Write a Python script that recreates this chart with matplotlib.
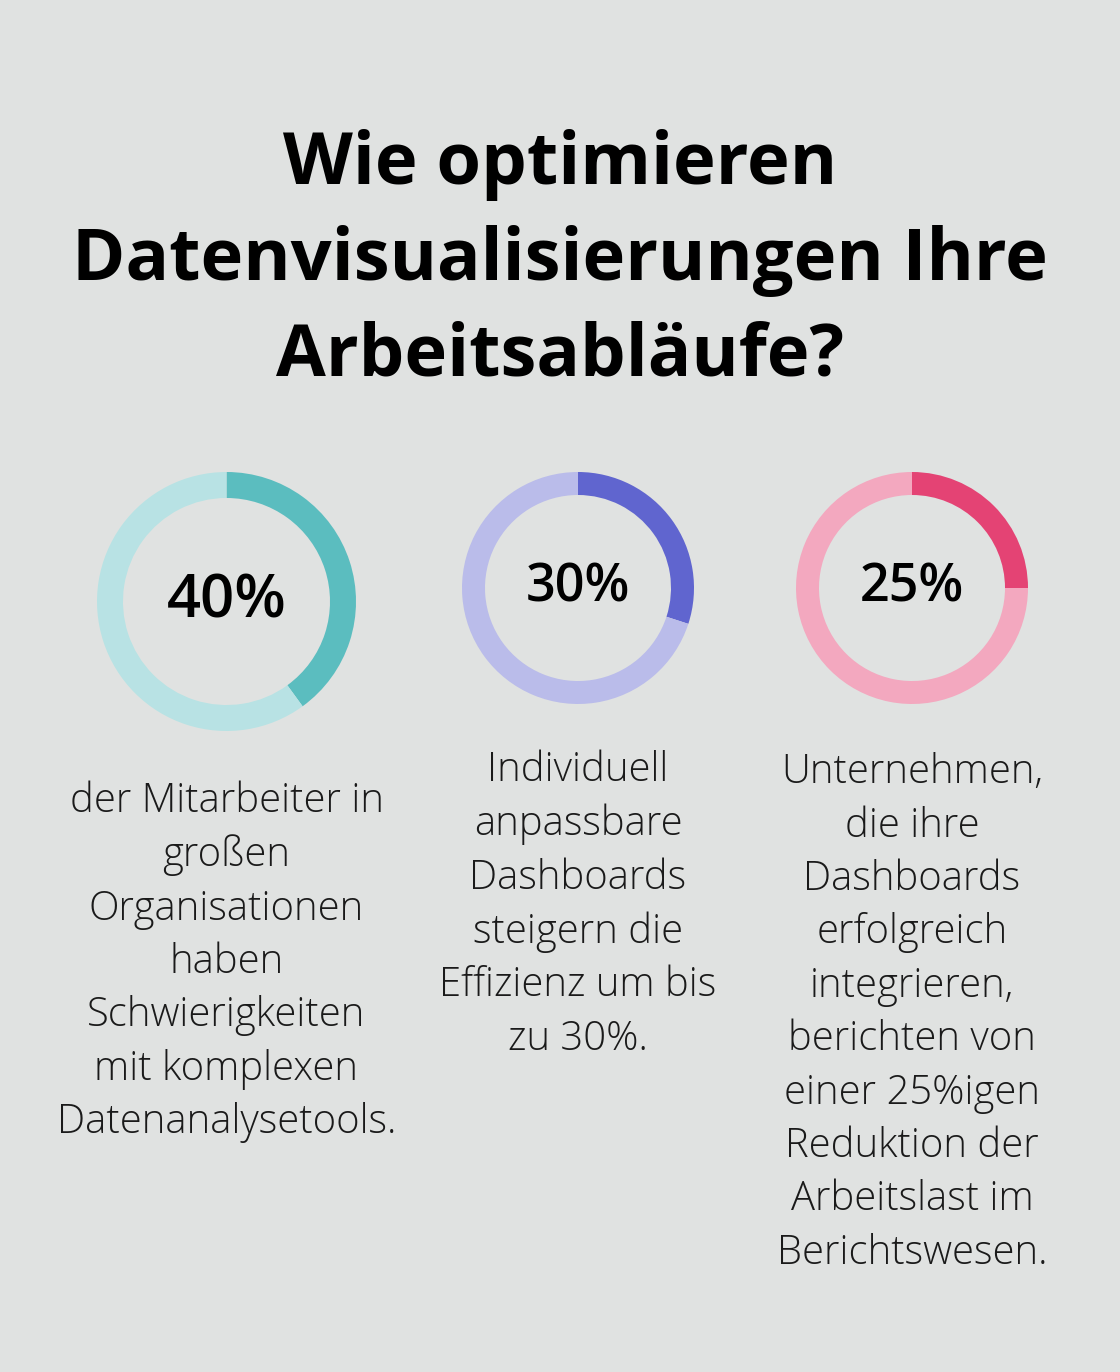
import matplotlib.pyplot as plt

# chart data
values = [40, 30, 25]
value_labels = ["40%", "30%", "25%"]
descriptions = [
    "der Mitarbeiter in\ngroßen\nOrganisationen\nhaben\nSchwierigkeiten\nmit komplexen\nDatenanalysetools.",
    "Individuell\nanpassbare\nDashboards\nsteigern die\nEffizienz um bis\nzu 30%.",
    "Unternehmen,\ndie ihre\nDashboards\nerfolgreich\nintegrieren,\nberichten von\neiner 25%igen\nReduktion der\nArbeitslast im\nBerichtswesen.",
]
title = "Wie optimieren\nDatenvisualisierungen Ihre\nArbeitsabläufe?"

# styling / layout (pixels, y measured from top)
W, H = 1120, 1372
bg = "#e0e2e1"
dark = ["#5bbdbf", "#6065cf", "#e44374"]
light = ["#b8e2e4", "#babcea", "#f3a8bf"]
centers = [(226.5, 601.5), (578, 588), (912, 588)]
radii = [129.5, 116, 116]
widths = [26, 23, 23]
label_sizes = [43, 37.5, 37.5]
text_mid = [962, 905, 1013]  # vertical middle of each description block

plt.rcParams['font.family'] = ['Open Sans', 'DejaVu Sans']

fig = plt.figure(figsize=(W / 100, H / 100), dpi=100, facecolor=bg)
ax = fig.add_axes([0, 0, 1, 1])
ax.set_facecolor(bg)

for i, v in enumerate(values):
    cx, cy = centers[i]
    ax.pie([v, 100 - v], colors=[dark[i], light[i]], startangle=90,
           counterclock=False, center=(cx, H - cy), radius=radii[i],
           wedgeprops=dict(width=widths[i], linewidth=0))
    ax.text(cx, H - cy, value_labels[i], ha='center', va='center',
            fontsize=label_sizes[i], fontweight='semibold', color='#000000')
    ax.text(cx, H - text_mid[i], descriptions[i], ha='center', va='center',
            fontsize=28.8, fontweight='light', color='#1a1a1a', linespacing=1.40)

ax.text(W / 2, H - 261, title, ha='center', va='center', fontsize=52,
        fontweight='bold', color='#000000', linespacing=1.43)

ax.set_xlim(0, W)
ax.set_ylim(0, H)
ax.set_aspect('equal')
ax.axis('off')

fig.savefig("out.png", dpi=100, facecolor=bg)
